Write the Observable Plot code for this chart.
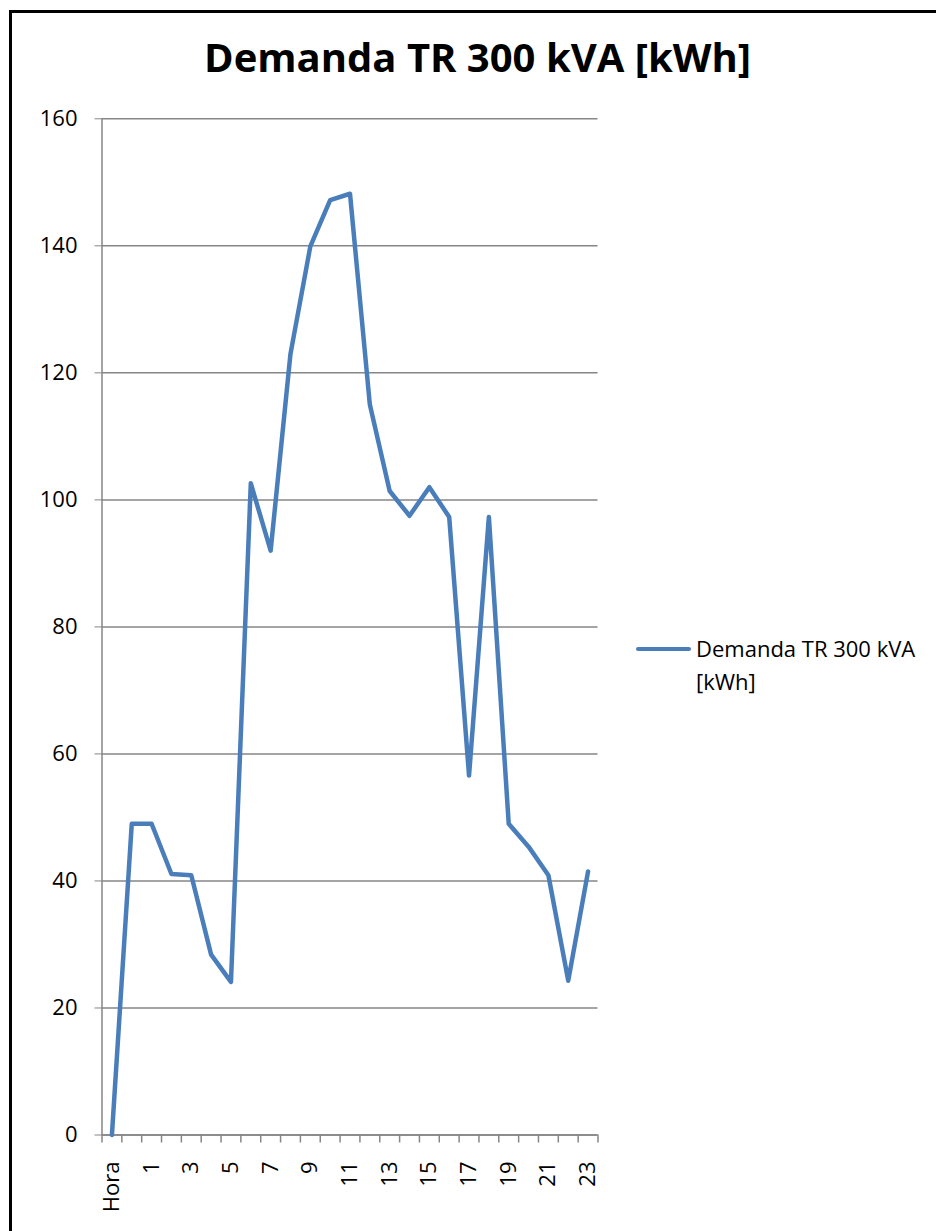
<!DOCTYPE html>
<html>
<head>
<meta charset="utf-8">
<script src="https://cdn.jsdelivr.net/npm/d3@7"></script>
<script src="https://cdn.jsdelivr.net/npm/@observablehq/plot@0.6"></script>
<style>
  html, body { margin: 0; padding: 0; background: #fff; }
  #wrap { position: relative; width: 936px; height: 1231px; overflow: hidden; font-family: "Open Sans", sans-serif; }
  #border { position: absolute; left: 9px; top: 10px; width: 2000px; height: 3000px; border-left: 3px solid #000; border-top: 3px solid #000; z-index: 3; pointer-events: none; }
  #title { position: absolute; left: 477.5px; top: 37px; transform: translateX(-50%); white-space: nowrap; font-weight: 700; font-size: 40px; line-height: 40px; color: #000; }
  #chart { position: absolute; left: 0; top: 100px; }
  #legend { position: absolute; left: 636px; top: 632px; }
  #legend .swatch { position: absolute; left: 0; top: 15px; width: 55px; height: 4px; background: #4a7ebb; border-radius: 2px; }
  #legend .label { position: absolute; left: 60px; top: 0; font-size: 22px; line-height: 33px; white-space: nowrap; color: #000; }
</style>
</head>
<body>
<div id="wrap">
  <div id="border"></div>
  <div id="title">Demanda TR 300 kVA [kWh]</div>
  <div id="chart"></div>
  <div id="legend"><div class="swatch"></div><div class="label">Demanda TR 300 kVA<br>[kWh]</div></div>
</div>
<script>
// Categories along the x axis
const categories = ["Hora", "0", "1", "2", "3", "4", "5", "6", "7", "8", "9", "10", "11",
  "12", "13", "14", "15", "16", "17", "18", "19", "20", "21", "22", "23"];
// Series: Demanda TR 300 kVA [kWh]
const demanda = [0, 49.0, 49.0, 41.1, 40.9, 28.4, 24.1, 102.6, 92.0, 123.0, 139.9, 147.2, 148.2,
  115.0, 101.4, 97.5, 102.0, 97.3, 56.6, 97.3, 49.0, 45.4, 40.9, 24.3, 41.5];
// Y tick values
const yTicks = [0, 20, 40, 60, 80, 100, 120, 140, 160];
// Which categories get a label (every other one)
const labelledIdx = categories.map((c, i) => i).filter(i => i % 2 === 0);

const rows = categories.map((c, i) => ({i, cat: c, v: demanda[i]}));
const boundaries = d3.range(categories.length + 1).map(k => k - 0.5);

const gray = "#868686";
const blue = "#4a7ebb";

const plot = Plot.plot({
  width: 620,
  height: 1131,
  marginLeft: 101.5,
  marginRight: 22.5,
  marginTop: 18.3,
  marginBottom: 96.5,
  style: {fontFamily: "Open Sans, sans-serif", background: "transparent", overflow: "visible"},
  x: {type: "linear", domain: [-0.5, categories.length - 0.5], label: null},
  y: {domain: [0, 160], label: null},
  marks: [
    Plot.gridY(yTicks, {stroke: gray, strokeOpacity: 1, strokeWidth: 1.5}),
    Plot.axisY(yTicks, {tickSize: 7, tickPadding: 17.5, stroke: gray, fill: "#000", fontSize: 22, tickFormat: d => String(d), label: null}),
    Plot.axisX(boundaries, {tickSize: 8, stroke: gray, strokeWidth: 1.5, tickFormat: () => "", label: null}),
    Plot.axisX(labelledIdx, {tickSize: 0, tickPadding: 26.5, tickRotate: -90, fill: "#000", fontSize: 22, tickFormat: i => categories[i], label: null}),
    Plot.ruleX([-0.5], {stroke: gray, strokeWidth: 1.5}),
    Plot.ruleY([0], {stroke: gray, strokeWidth: 1.5}),
    Plot.line(rows, {x: "i", y: "v", stroke: blue, strokeWidth: 4.5, strokeLinejoin: "round", strokeLinecap: "round"})
  ]
});
document.getElementById("chart").appendChild(plot);
</script>
</body>
</html>
